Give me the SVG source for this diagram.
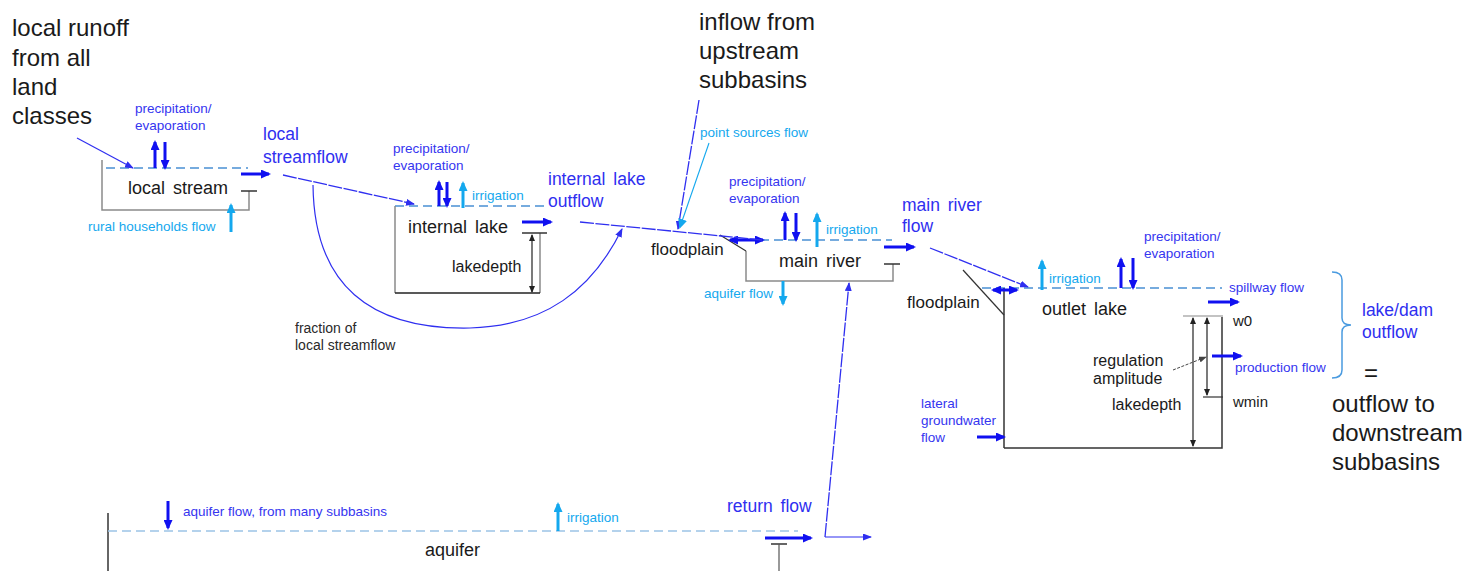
<svg xmlns="http://www.w3.org/2000/svg" width="1472" height="571" viewBox="0 0 1472 571">
<defs>
<style>
text{font-family:"Liberation Sans",Arial,sans-serif}
.big{font-size:24px;fill:#1a1a1a}
.main{font-size:18px;fill:#1a1a1a;word-spacing:3px}
.mid{font-size:16px;fill:#1a1a1a}
.sm{font-size:14px;fill:#2a2a2a}
.bl{font-size:17.5px;fill:#2f2ff0;word-spacing:3px}
.bs{font-size:13.5px;fill:#3535f0}
.lb{font-size:13.5px;fill:#14a8ee}
.water{stroke:#4a90d4;stroke-width:1.5;stroke-dasharray:9 5;fill:none}
.aq{stroke:#9cc4e6;stroke-width:1.5;stroke-dasharray:9 5;fill:none}
.box{stroke:#8a8a8a;stroke-width:1.5;fill:none}
.dark{stroke:#333;stroke-width:1.5;fill:none}
.thick{stroke:#1010f0;stroke-width:3;fill:none;marker-end:url(#ah)}
.thickl{stroke:#14a8ee;stroke-width:3;fill:none;marker-end:url(#ahl)}
.dbl{stroke:#1010f0;stroke-width:3;fill:none;marker-end:url(#ah);marker-start:url(#ah)}
.thin{stroke:#2f2ff0;stroke-width:1.2;fill:none;marker-end:url(#th)}
.thind{stroke:#2f2ff0;stroke-width:1.3;fill:none;stroke-dasharray:14 1.5;marker-end:url(#th)}
.meas{stroke:#222;stroke-width:1.2;fill:none;marker-end:url(#bk);marker-start:url(#bk)}
</style>
<marker id="ah" markerUnits="userSpaceOnUse" markerWidth="10" markerHeight="9" refX="8" refY="4.5" orient="auto-start-reverse"><path d="M0,0 L10,4.5 L0,9 z" fill="#1010f0"/></marker>
<marker id="ahl" markerUnits="userSpaceOnUse" markerWidth="10" markerHeight="9" refX="8" refY="4.5" orient="auto"><path d="M0,0 L10,4.5 L0,9 z" fill="#14a8ee"/></marker>
<marker id="th" markerUnits="userSpaceOnUse" markerWidth="9" markerHeight="7" refX="8" refY="3.5" orient="auto"><path d="M0,0 L9,3.5 L0,7 z" fill="#2f2ff0"/></marker>
<marker id="bk" markerUnits="userSpaceOnUse" markerWidth="7" markerHeight="6" refX="6" refY="3" orient="auto-start-reverse"><path d="M0,0 L7,3 L0,6 z" fill="#222"/></marker>
<marker id="bkd" markerUnits="userSpaceOnUse" markerWidth="8" markerHeight="6" refX="7" refY="3" orient="auto"><path d="M0,0 L8,3 L0,6 z" fill="#444"/></marker>
</defs>

<!-- free labels -->
<g id="local-runoff">
<text class="big" x="12" y="36">local runoff</text>
<text class="big" x="12" y="66">from all</text>
<text class="big" x="12" y="95">land</text>
<text class="big" x="12" y="124">classes</text>
</g>
<g id="inflow-upstream">
<text class="big" x="699" y="30">inflow from</text>
<text class="big" x="699" y="59">upstream</text>
<text class="big" x="699" y="88">subbasins</text>
</g>
<g id="downstream">
<text class="bl" x="1362" y="316">lake/dam</text>
<text class="bl" x="1362" y="338">outflow</text>
<text class="big" x="1364" y="381">=</text>
<text class="big" x="1332" y="412">outflow to</text>
<text class="big" x="1332" y="441">downstream</text>
<text class="big" x="1332" y="470">subbasins</text>
<path d="M1332,272 Q1342,272 1342,280 L1342,318 Q1342,325 1351,325 Q1342,325 1342,332 L1342,370 Q1342,378 1332,378" stroke="#4a9be0" stroke-width="1.5" fill="none"/>
</g>

<!-- local stream -->
<g id="local-stream">
<line class="water" x1="106" y1="168" x2="248" y2="168"/>
<path class="box" d="M102,160 L102,210 L249,210 L249,191"/>
<line class="dark" x1="241" y1="191" x2="257" y2="191"/>
<text class="main" x="128" y="194">local stream</text>
<line class="thick" x1="241" y1="174" x2="269" y2="174"/>
<line class="thick" x1="155" y1="168" x2="155" y2="142"/>
<line class="thick" x1="165" y1="142" x2="165" y2="168"/>
<text class="bs" x="135" y="113">precipitation/</text>
<text class="bs" x="135" y="130">evaporation</text>
<line class="thickl" x1="231" y1="232" x2="231" y2="205"/>
<text class="lb" x="88" y="231">rural households flow</text>
<text class="bl" x="263" y="140">local</text>
<text class="bl" x="263" y="163">streamflow</text>
</g>

<!-- internal lake -->
<g id="internal-lake">
<line class="water" x1="395" y1="206" x2="547" y2="206"/>
<path class="box" d="M395,206 L395,293"/>
<path class="box" d="M540,233 L540,293"/>
<line x1="395" y1="293" x2="540" y2="293" stroke="#222" stroke-width="1.5"/>
<line class="dark" x1="522" y1="233" x2="547" y2="233"/>
<line class="meas" x1="532" y1="235" x2="532" y2="292"/>
<text class="main" x="408" y="233">internal lake</text>
<text class="mid" x="452" y="272">lakedepth</text>
<line class="thick" x1="522" y1="222" x2="551" y2="222"/>
<line class="thick" x1="439" y1="206" x2="439" y2="182"/>
<line class="thick" x1="447" y1="182" x2="447" y2="206"/>
<line class="thickl" x1="463" y1="208" x2="463" y2="183"/>
<text class="lb" x="472" y="200">irrigation</text>
<text class="bs" x="393" y="153">precipitation/</text>
<text class="bs" x="393" y="170">evaporation</text>
<text class="bl" x="548" y="185">internal lake</text>
<text class="bl" x="548" y="207">outflow</text>
</g>

<!-- main river -->
<g id="main-river">
<line class="water" x1="746" y1="240" x2="892" y2="240"/>
<path class="box" d="M746,251 L746,281 L893,281 L893,264"/>
<line class="dark" x1="884" y1="264" x2="900" y2="264"/>
<line x1="720" y1="235" x2="746" y2="251" stroke="#333" stroke-width="1.2"/>
<text class="mid" x="651" y="255" style="font-size:17px">floodplain</text>
<line class="dbl" x1="730" y1="240" x2="763" y2="240"/>
<text class="main" x="779" y="267">main river</text>
<line class="thick" x1="785" y1="240" x2="785" y2="213"/>
<line class="thick" x1="796" y1="213" x2="796" y2="240"/>
<line class="thickl" x1="817" y1="247" x2="817" y2="214"/>
<text class="lb" x="826" y="234">irrigation</text>
<text class="bs" x="729" y="186">precipitation/</text>
<text class="bs" x="729" y="203">evaporation</text>
<line class="thickl" x1="783" y1="281" x2="783" y2="304"/>
<text class="lb" x="704" y="298">aquifer flow</text>
<line class="thick" x1="884" y1="247" x2="914" y2="247"/>
<text class="bl" x="902" y="211">main river</text>
<text class="bl" x="902" y="232">flow</text>
</g>

<!-- outlet lake -->
<g id="outlet-lake">
<line class="water" x1="982" y1="288" x2="1222" y2="288"/>
<path class="box" d="M1004,288 L1004,448" style="stroke:#333"/>
<path d="M1004,448 L1222,448 L1222,317" stroke="#333" stroke-width="1.5" fill="none"/>
<line x1="1183" y1="316" x2="1223" y2="316" stroke="#888" stroke-width="1.2"/>
<line x1="1203" y1="397" x2="1223" y2="397" stroke="#333" stroke-width="1.2"/>
<line class="meas" x1="1193" y1="318" x2="1193" y2="446"/>
<line class="meas" x1="1207" y1="318" x2="1207" y2="395"/>
<line x1="1173" y1="370" x2="1206" y2="357" stroke="#444" stroke-width="1" stroke-dasharray="3 1.5" marker-end="url(#bkd)"/>
<line x1="963" y1="270" x2="1004" y2="315" stroke="#333" stroke-width="1.2"/>
<text class="mid" x="907" y="308" style="font-size:17px">floodplain</text>
<line class="dbl" x1="993" y1="290" x2="1017" y2="290"/>
<text class="main" x="1042" y="315">outlet lake</text>
<line class="thickl" x1="1042" y1="290" x2="1042" y2="261"/>
<text class="lb" x="1049" y="283">irrigation</text>
<line class="thick" x1="1121" y1="288" x2="1121" y2="259"/>
<line class="thick" x1="1133" y1="258" x2="1133" y2="288"/>
<text class="bs" x="1144" y="241">precipitation/</text>
<text class="bs" x="1144" y="258">evaporation</text>
<line class="thick" x1="1208" y1="302" x2="1238" y2="302"/>
<text class="bs" x="1229" y="292">spillway flow</text>
<line class="thick" x1="1212" y1="356" x2="1241" y2="356"/>
<text class="bs" x="1235" y="372">production flow</text>
<text class="mid" x="1233" y="326" style="font-size:15px">w0</text>
<text class="mid" x="1233" y="407" style="font-size:15px">wmin</text>
<text class="mid" x="1093" y="366">regulation</text>
<text class="mid" x="1093" y="384">amplitude</text>
<text class="mid" x="1112" y="410">lakedepth</text>
<line class="thick" x1="977" y1="437" x2="1004" y2="437"/>
<text class="bs" x="921" y="408">lateral</text>
<text class="bs" x="921" y="425">groundwater</text>
<text class="bs" x="921" y="442">flow</text>
</g>

<!-- aquifer -->
<g id="aquifer">
<line x1="108" y1="513" x2="108" y2="571" stroke="#333" stroke-width="1.5"/>
<line class="aq" x1="108" y1="531" x2="798" y2="531"/>
<text class="main" x="425" y="556">aquifer</text>
<line class="thick" x1="168" y1="501" x2="168" y2="528"/>
<text class="bs" x="183" y="516">aquifer flow, from many subbasins</text>
<line class="thickl" x1="558" y1="531" x2="558" y2="504"/>
<text class="lb" x="567" y="522">irrigation</text>
<line class="thick" x1="765" y1="538" x2="811" y2="538"/>
<line class="dark" x1="771" y1="544" x2="787" y2="544"/>
<line x1="779" y1="544" x2="779" y2="571" stroke="#555" stroke-width="1.2"/>
<text class="bl" x="727" y="512">return flow</text>
</g>

<!-- other labels -->
<g id="fraction-label">
<text class="sm" x="295" y="333">fraction of</text>
<text class="sm" x="295" y="350">local streamflow</text>
</g>
<g id="point-sources-label">
<text class="lb" x="700" y="137">point sources flow</text>
</g>

<!-- connectors -->
<g id="connectors">
<line class="thin" x1="77" y1="138" x2="133" y2="168"/>
<line class="thind" x1="283" y1="175" x2="414" y2="204"/>
<path class="thin" d="M313,185 C314,285 370,330 470,328 C545,326 592,290 622,229"/>
<line x1="580" y1="222" x2="762" y2="240" stroke="#2f2ff0" stroke-width="1.3" stroke-dasharray="14 1.5"/>
<line class="thind" x1="699" y1="100" x2="678" y2="229"/>
<line x1="709" y1="143" x2="680" y2="227" stroke="#14a8ee" stroke-width="1.1" marker-end="url(#ahl)"/>
<line class="thind" x1="930" y1="248" x2="1028" y2="287"/>
<path class="thind" d="M825,537 L849,283"/>
<line class="thin" x1="825" y1="537" x2="871" y2="537"/>
</g>
</svg>
